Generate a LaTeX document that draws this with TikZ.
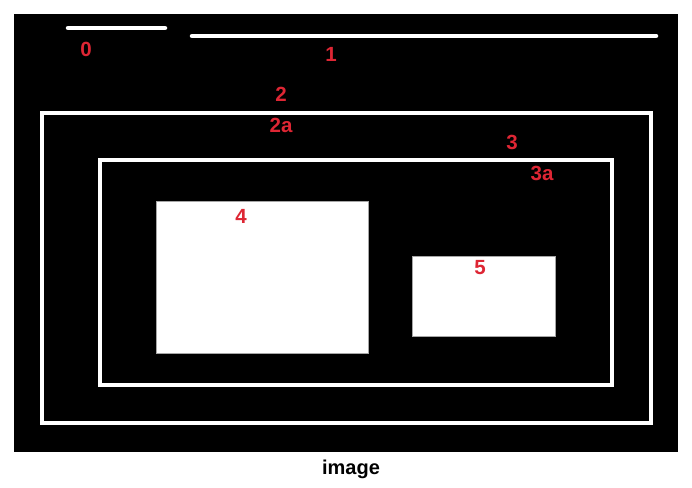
\documentclass[tikz,border=0pt]{standalone}
\usepackage{fontspec}
\setmainfont{Liberation Sans}
\definecolor{lblred}{RGB}{222,38,52}
\begin{document}
\begin{tikzpicture}[x=1pt,y=-1pt,
  wline/.style={draw=white,line width=4pt},
  wbar/.style={draw=white,line width=4.5pt,line cap=round},
  wbox/.style={fill=white,draw=gray!70,line width=0.8pt},
  lbl/.style={text=lblred,font=\bfseries\fontsize{20.5}{20.5}\selectfont,inner sep=0pt,anchor=center}]
\useasboundingbox (0,0) rectangle (692,487);
\fill[white] (0,0) rectangle (692,487);
\fill[black] (14,14) rectangle (678,452);
\coordinate (l0a) at (68,28); \coordinate (l0b) at (165,28);
\coordinate (l1a) at (192,36); \coordinate (l1b) at (656,36);
\draw[wbar] (l0a) -- (l0b);
\draw[wbar] (l1a) -- (l1b);
\draw[wline] (41.5,112.5) rectangle (650.5,422.5);
\draw[wline] (99.5,159.5) rectangle (611.5,384.5);
\draw[wbox] (156,201) rectangle (368,353);
\draw[wbox] (412,256) rectangle (555.5,336.5);
\node[lbl] (n0) at (86,49) {0};
\node[lbl] (n1) at (331,54) {1};
\node[lbl] (n2) at (281,94) {2};
\node[lbl] (n2a) at (281,125) {2a};
\node[lbl] (n3) at (512,142) {3};
\node[lbl] (n3a) at (542,173) {3a};
\node[lbl] (n4) at (241,216) {4};
\node[lbl] (n5) at (480,268) {5};
\node[font=\bfseries\fontsize{20}{20}\selectfont,inner sep=0pt] (cap) at (351,469) {image};
\end{tikzpicture}
\end{document}
